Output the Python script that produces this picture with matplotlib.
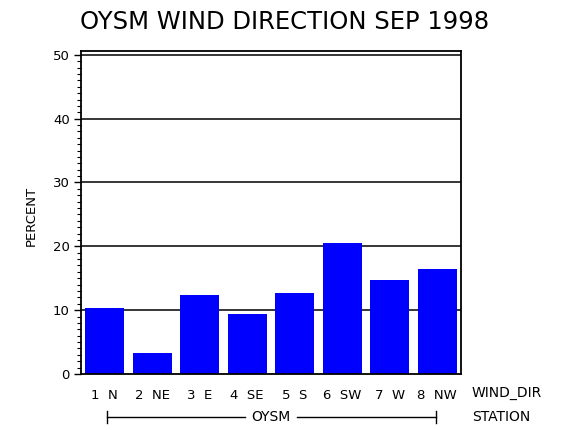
import matplotlib
matplotlib.use('Agg')
import matplotlib.pyplot as plt
from matplotlib.ticker import MultipleLocator

directions = ['1  N', '2  NE', '3  E', '4  SE', '5  S', '6  SW', '7  W', '8  NW']
percent = [10.3, 3.3, 12.3, 9.4, 12.7, 20.5, 14.8, 16.4]
station = 'OYSM'
title = 'OYSM WIND DIRECTION SEP 1998'

plt.rcParams['font.family'] = ['DejaVu Sans']

fig = plt.figure(figsize=(5.7, 4.3), dpi=100)
# axes box in pixels: x 81..461, y 51..374 (from top)
ax = fig.add_axes([81 / 570, 1 - 374 / 430, 380 / 570, 323 / 430])

x = list(range(len(directions)))
ax.bar(x, percent, width=0.82, color='#0000ff', zorder=2)

ax.set_xlim(-0.5, len(directions) - 0.5)
ax.set_ylim(0, 50.6)
ax.yaxis.set_major_locator(MultipleLocator(10))
ax.yaxis.set_minor_locator(MultipleLocator(1))
for v in range(10, 51, 10):
    ax.axhline(v, color='black', linewidth=1.1, zorder=1)

for s in ax.spines.values():
    s.set_linewidth(1.3)
    s.set_color('black')

ax.tick_params(axis='y', which='major', length=5, width=1, labelsize=9.5, pad=3)
ax.tick_params(axis='y', which='minor', length=3, width=0.8)
ax.set_xticks(x)
ax.set_xticklabels(directions, fontsize=9.5)
ax.tick_params(axis='x', length=0, pad=11)

ax.set_ylabel('PERCENT', fontsize=9.5, labelpad=8)
ax.yaxis.set_label_coords(-0.115, 0.49)

fig.text(285 / 570, 1 - 22 / 430, title, fontsize=17.5, ha='center', va='center')
fig.text(472 / 570, 1 - 393 / 430, 'WIND_DIR', fontsize=10, ha='left', va='center')
fig.text(472 / 570, 1 - 417 / 430, 'STATION', fontsize=10, ha='left', va='center')

# station bracket under categories
yb = 1 - 417 / 430
fig.add_artist(plt.Line2D([107 / 570, 245 / 570], [yb, yb], color='black', linewidth=1))
fig.add_artist(plt.Line2D([297 / 570, 436 / 570], [yb, yb], color='black', linewidth=1))
for xe in (107, 436):
    fig.add_artist(plt.Line2D([xe / 570, xe / 570], [yb - 6 / 430, yb + 6 / 430], color='black', linewidth=1))
fig.text(271 / 570, yb, station, fontsize=10, ha='center', va='center')

fig.savefig('out.png', dpi=100)
